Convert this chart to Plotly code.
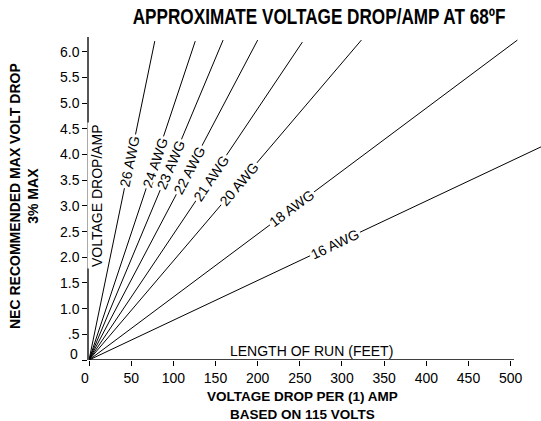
import math
import plotly.graph_objects as go

# ---- data ----
gauges = ["26 AWG", "24 AWG", "23 AWG", "22 AWG", "21 AWG", "20 AWG", "18 AWG", "16 AWG"]
end_feet = [78, 126, 159, 200, 253, 323, 508, 536]
end_volts = [6.21, 6.21, 6.23, 6.23, 6.19, 6.23, 6.23, 4.15]
label_feet = [48.6, 78, 97, 119, 145, 178, 241, 292]

x_tick_vals = [0, 50, 100, 150, 200, 250, 300, 350, 400, 450, 500]
x_tick_text = ["", "50", "100", "150", "200", "250", "300", "350", "400", "450", "500"]
y_tick_vals = [0, 0.5, 1.0, 1.5, 2.0, 2.5, 3.0, 3.5, 4.0, 4.5, 5.0, 5.5, 6.0]
y_tick_text = ["", ".5", "1.0", "1.5", "2.0", "2.5", "3.0", "3.5", "4.0", "4.5", "5.0", "5.5", "6.0"]

TITLE = "APPROXIMATE VOLTAGE DROP/AMP AT 68ºF"

W, H = 541, 421
ML, MR, MT, MB = 89, 0, 37, 61
X_RANGE = [0, 536]
Y_RANGE = [0, 6.29]
AXIS_END = 504

PW = W - ML - MR
PH = H - MT - MB
px_x = PW / (X_RANGE[1] - X_RANGE[0])
px_y = PH / (Y_RANGE[1] - Y_RANGE[0])


def pap_x(px):
    return (px - ML) / PW


def pap_y(py):
    return (H - MB - py) / PH


FONT = "Liberation Sans, Arial, Helvetica, sans-serif"

fig = go.Figure()
annotations = []
for name, xf, yv, lf in zip(gauges, end_feet, end_volts, label_feet):
    fig.add_trace(go.Scatter(x=[0, xf], y=[0, yv], mode="lines",
                             line=dict(color="black", width=1),
                             showlegend=False, hoverinfo="skip"))
    slope = yv / xf
    ang = math.degrees(math.atan2(slope * px_y, px_x))
    annotations.append(dict(x=lf, y=lf * slope, xref="x", yref="y", text=name,
                            showarrow=False, textangle=-ang, bgcolor="white",
                            borderpad=1, font=dict(size=14, color="black", family=FONT)))

annotations += [
    dict(x=0, y=0, xref="x", yref="y", text="0", showarrow=False, xanchor="right",
         xshift=-9, yshift=6, font=dict(size=14, color="black", family=FONT)),
    dict(x=0, y=0, xref="x", yref="y", text="0", showarrow=False, yanchor="top",
         xshift=-4, yshift=-8, font=dict(size=14, color="black", family=FONT)),
    dict(x=pap_x(97), y=pap_y(196), xref="paper", yref="paper", text="VOLTAGE DROP/AMP",
         showarrow=False, textangle=-90, xanchor="center", yanchor="middle",
         bgcolor="white", font=dict(size=14, color="black", family=FONT)),
    dict(x=pap_x(311), y=0, xref="paper", yref="paper", text="LENGTH OF RUN (FEET)",
         showarrow=False, yanchor="bottom", yshift=-1,
         font=dict(size=14, color="black", family=FONT)),
    dict(x=pap_x(302), y=pap_y(405), xref="paper", yref="paper",
         text="<b>VOLTAGE DROP PER (1) AMP<br>BASED ON 115 VOLTS</b>", showarrow=False,
         xanchor="center", yanchor="middle",
         font=dict(size=13.5, color="black", family=FONT)),
    dict(x=pap_x(24), y=pap_y(196), xref="paper", yref="paper",
         text="<b>NEC RECOMMENDED MAX VOLT DROP<br>3% MAX</b>", showarrow=False,
         textangle=-90, xanchor="center", yanchor="middle",
         font=dict(size=14, color="black", family=FONT)),
    dict(x=pap_x(319), y=pap_y(17), xref="paper", yref="paper",
         text="<b>" + TITLE + "</b>", showarrow=False,
         xanchor="center", yanchor="middle",
         font=dict(size=22, color="black", family=FONT)),
]

fig.add_shape(type="line", xref="x", yref="y", x0=0, x1=AXIS_END, y0=0, y1=0,
              line=dict(color="black", width=1.5))

fig.update_layout(
    width=W, height=H,
    margin=dict(l=ML, r=MR, t=MT, b=MB, pad=0),
    paper_bgcolor="white", plot_bgcolor="white",
    annotations=annotations,
    xaxis=dict(range=X_RANGE, showgrid=False, zeroline=False, showline=False,
               tickmode="array", tickvals=x_tick_vals, ticktext=x_tick_text,
               ticks="outside", ticklen=5, tickcolor="black", tickwidth=1,
               tickfont=dict(size=14, color="black", family=FONT)),
    yaxis=dict(range=Y_RANGE, showgrid=False, zeroline=False, showline=True,
               linecolor="#555555", linewidth=1.5,
               tickmode="array", tickvals=y_tick_vals, ticktext=y_tick_text,
               ticks="outside", ticklen=5, tickcolor="black", tickwidth=1,
               tickfont=dict(size=14, color="black", family=FONT)),
    showlegend=False,
)

# condense the title horizontally (reference uses a condensed bold face)
post = """
document.body.style.margin='0';document.body.style.padding='0';
(function(){
  var gd=document.getElementById('{plot_id}');
  function squeeze(){
    var ts=gd.querySelectorAll('text.annotation-text');
    ts.forEach(function(t){
      if(t.textContent.indexOf('APPROXIMATE')===0 && !t.getAttribute('data-sq')){
        var b=t.getBBox();
        var cx=b.x+b.width/2, cy=b.y+b.height/2;
        var s=373/b.width;
        t.setAttribute('transform','translate('+cx+','+cy+') scale('+s+',1) translate('+(-cx)+','+(-cy)+')');
        t.setAttribute('data-sq','1');
      }
    });
  }
  squeeze();
  if(gd.on){gd.on('plotly_afterplot',squeeze);}
})();
"""

fig.write_html("out.html", post_script=post, config={"displayModeBar": False})
